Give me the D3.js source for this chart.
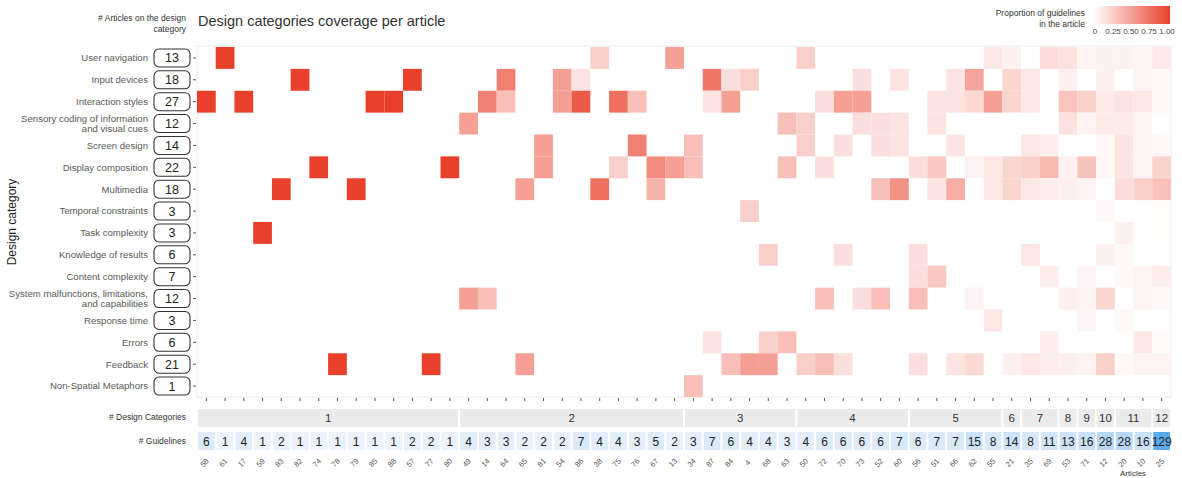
<!DOCTYPE html>
<html>
<head>
<meta charset="utf-8">
<script src="https://cdn.jsdelivr.net/npm/d3@7/dist/d3.min.js"></script>
<style>
  body { margin: 0; background: #fff; }
  svg { font-family: "Liberation Sans", Arial, Helvetica, sans-serif; display: block; }
</style>
</head>
<body>
<svg id="chart" width="1182" height="478"></svg>
<script>
// ---- data -------------------------------------------------------------
const categories = [
  "User navigation", "Input devices", "Interaction styles",
  "Sensory coding of information\nand visual cues", "Screen design",
  "Display composition", "Multimedia", "Temporal constraints",
  "Task complexity", "Knowledge of results", "Content complexity",
  "System malfunctions, limitations,\nand capabilities", "Response time",
  "Errors", "Feedback", "Non-Spatial Metaphors"
];
const articlesPerCategory = [13, 18, 27, 12, 14, 22, 18, 3, 3, 6, 7, 12, 3, 6, 21, 1];

const articles = [
  "58","61","17","59","83","82","74","78","79","85","88","57","77","80",
  "49","14","64","65","81","54","86","38","75","76","67","13",
  "34","87","84","4","68","63",
  "50","72","70","73","52","60",
  "56","51","66","62","55",
  "21", "35","69", "53", "71", "12", "20","10", "25"
];
const guidelines = [
  6,1,4,1,2,1,1,1,1,1,1,2,2,1,
  4,3,3,2,2,2,7,4,4,3,5,2,
  3,7,6,4,4,3,
  4,6,6,6,6,7,
  6,7,7,15,8,
  14, 8,11, 13, 16, 28, 28,16, 129
];

// guidelines of each article falling in each design category (one array per category)
const userNavigation = [0,1,0,0,0,0,0,0,0,0,0,0,0,0, 0,0,0,0,0,0,0,1,0,0,0,1, 0,0,0,0,0,0, 1,0,0,0,0,0, 0,0,0,0,1, 1, 0,2, 2, 1, 2, 2,1, 14];
const inputDevices   = [0,0,0,0,0,1,0,0,0,0,0,2,0,0, 0,0,2,0,0,1,1,0,0,0,0,0, 0,5,1,1,0,0, 0,0,0,1,0,1, 0,0,1,7,0, 3, 1,0, 1, 0, 2, 0,1, 5];
const interactionStyles = [6,0,4,0,0,0,0,0,0,1,1,0,0,0, 0,2,1,0,0,1,6,0,3,1,0,0, 0,1,3,0,0,0, 0,1,3,3,0,0, 0,1,1,3,4, 3, 1,0, 4, 4, 3, 4,2, 5];
const sensoryCoding  = [0,0,0,0,0,0,0,0,0,0,0,0,0,0, 2,0,0,0,0,0,0,0,0,0,0,0, 0,0,0,0,0,1, 1,0,0,1,1,1, 0,1,0,0,0, 0, 0,0, 2, 1, 3, 3,1, 0];
const screenDesign   = [0,0,0,0,0,0,0,0,0,0,0,0,0,0, 0,0,0,0,1,0,0,0,0,2,0,0, 1,0,0,0,0,0, 1,0,1,0,1,1, 0,0,1,0,0, 0, 1,1, 0, 0, 1, 4,1, 4];
const displayComposition = [0,0,0,0,0,0,1,0,0,0,0,0,0,1, 0,0,0,0,1,0,0,0,1,0,3,1, 1,0,0,0,0,1, 0,1,0,0,0,0, 1,2,0,1,1, 3, 2,4, 1, 5, 1, 4,1, 30];
const multimedia     = [0,0,0,0,2,0,0,0,1,0,0,0,0,0, 0,0,0,1,0,0,0,3,0,0,2,0, 0,0,0,0,0,0, 0,0,0,0,2,4, 0,1,3,0,1, 3, 1,1, 1, 1, 0, 5,4, 42];
const temporalConstraints = [0,0,0,0,0,0,0,0,0,0,0,0,0,0, 0,0,0,0,0,0,0,0,0,0,0,0, 0,0,0,1,0,0, 0,0,0,0,0,0, 0,0,0,0,0, 0, 0,0, 0, 0, 1, 0,0, 1];
const taskComplexity = [0,0,0,1,0,0,0,0,0,0,0,0,0,0, 0,0,0,0,0,0,0,0,0,0,0,0, 0,0,0,0,0,0, 0,0,0,0,0,0, 0,0,0,0,0, 0, 0,0, 0, 0, 0, 2,0, 1];
const knowledgeOfResults = [0,0,0,0,0,0,0,0,0,0,0,0,0,0, 0,0,0,0,0,0,0,0,0,0,0,0, 0,0,0,0,1,0, 0,0,1,0,0,0, 1,0,0,0,0, 0, 1,0, 0, 0, 2, 1,0, 0];
const contentComplexity  = [0,0,0,0,0,0,0,0,0,0,0,0,0,0, 0,0,0,0,0,0,0,0,0,0,0,0, 0,0,0,0,0,0, 0,0,0,0,0,0, 1,2,0,0,0, 0, 0,1, 0, 1, 0, 1,1, 12];
const systemMalfunctions = [0,0,0,0,0,0,0,0,0,0,0,0,0,0, 2,1,0,0,0,0,0,0,0,0,0,0, 0,0,0,0,0,0, 0,2,0,1,2,0, 2,0,0,1,0, 0, 0,0, 1, 1, 6, 0,1, 4];
const responseTime   = [0,0,0,0,0,0,0,0,0,0,0,0,0,0, 0,0,0,0,0,0,0,0,0,0,0,0, 0,0,0,0,0,0, 0,0,0,0,0,0, 0,0,0,0,1, 0, 0,0, 0, 1, 0, 1,0, 0];
const errors         = [0,0,0,0,0,0,0,0,0,0,0,0,0,0, 0,0,0,0,0,0,0,0,0,0,0,0, 0,1,0,0,1,1, 0,0,0,0,0,0, 0,0,0,0,0, 0, 0,1, 0, 0, 0, 0,2, 3];
const feedback       = [0,0,0,0,0,0,0,1,0,0,0,0,2,0, 0,0,0,1,0,0,0,0,0,0,0,0, 0,0,2,2,2,0, 1,2,1,0,0,0, 1,0,1,3,0, 1, 1,1, 1, 1, 7, 1,1, 8];
const nonSpatialMetaphors = [0,0,0,0,0,0,0,0,0,0,0,0,0,0, 0,0,0,0,0,0,0,0,0,0,0,0, 1,0,0,0,0,0, 0,0,0,0,0,0, 0,0,0,0,0, 0, 0,0, 0, 0, 0, 0,0, 0];

const categoryCounts = [
  userNavigation, inputDevices, interactionStyles, sensoryCoding, screenDesign,
  displayComposition, multimedia, temporalConstraints, taskComplexity,
  knowledgeOfResults, contentComplexity, systemMalfunctions, responseTime,
  errors, feedback, nonSpatialMetaphors
];
const legendTicks = [0, 0.25, 0.5, 0.75, 1];

// ---- derived tables ---------------------------------------------------
const cells = [];
categoryCounts.forEach((row, ci) => {
  row.forEach((n, ai) => {
    if (n > 0) cells.push({ category: categories[ci], article: articles[ai], value: n / guidelines[ai] });
  });
});
// number of design categories each article touches, grouped into strips
const nCats = articles.map((a, ai) => categoryCounts.filter(r => r[ai] > 0).length);
const strips = [];
nCats.forEach((n, ai) => {
  const last = strips[strips.length - 1];
  if (last && last.n === n) last.items.push(articles[ai]);
  else strips.push({ n, items: [articles[ai]] });
});

// ---- layout -----------------------------------------------------------
const svg = d3.select("#chart");
const plot = { left: 197, right: 1171, top: 47, bottom: 397 };

const x = d3.scaleBand().domain(articles).range([plot.left, plot.right]).padding(0);
const y = d3.scaleBand().domain(categories).range([plot.top, plot.bottom]).padding(0);
const heat = d3.scaleLinear().domain([0, 1]).range(["#ffffff", "#e8402a"]).interpolate(d3.interpolateRgb);
const blue = d3.scalePow().exponent(0.6).domain([1, 129]).range(["#edf3fc", "#5aa9ee"]);

// title and headers
svg.append("text").attr("x", 198).attr("y", 26)
  .attr("font-size", 14.5).attr("fill", "#333").text("Design categories coverage per article");
const hdr = svg.append("text").attr("text-anchor", "end").attr("font-size", 8.5).attr("fill", "#333");
hdr.append("tspan").attr("x", 186).attr("y", 21).text("# Articles on the design");
hdr.append("tspan").attr("x", 186).attr("y", 32).text("category");

// panel
svg.append("rect").attr("x", plot.left).attr("y", plot.top - 1)
  .attr("width", plot.right - plot.left).attr("height", plot.bottom - plot.top + 1)
  .attr("fill", "#fff").attr("stroke", "#ececec").attr("stroke-width", 1);

svg.append("g").selectAll("rect").data(cells).join("rect")
  .attr("x", d => x(d.article)).attr("y", d => y(d.category))
  .attr("width", x.bandwidth()).attr("height", y.bandwidth())
  .attr("fill", d => heat(d.value));

// y axis ticks
svg.append("g").attr("transform", `translate(${plot.left - 1},0)`)
  .call(d3.axisLeft(y).tickSize(3).tickFormat(""))
  .call(g => g.select(".domain").remove())
  .call(g => g.selectAll("line").attr("stroke", "#555"));
// x axis ticks
svg.append("g").attr("transform", `translate(0,${plot.bottom + 1})`)
  .call(d3.axisBottom(x).tickSize(3).tickFormat(""))
  .call(g => g.select(".domain").remove())
  .call(g => g.selectAll("line").attr("stroke", "#555"));

// category labels with count boxes
const rows = svg.append("g").selectAll("g").data(categories).join("g")
  .attr("transform", d => `translate(0,${y(d) + y.bandwidth() / 2})`);
rows.each(function(d) {
  const lines = d.split("\n");
  const t = d3.select(this).append("text").attr("text-anchor", "end")
    .attr("font-size", 9.6).attr("fill", "#595959");
  lines.forEach((l, i) => {
    t.append("tspan").attr("x", 148)
      .attr("y", (i - (lines.length - 1) / 2) * 10 + 3.4).text(l);
  });
});
rows.append("rect").attr("x", 154).attr("y", -9).attr("width", 36).attr("height", 18)
  .attr("rx", 5).attr("fill", "#fff").attr("stroke", "#333").attr("stroke-width", 1.1);
rows.append("text").attr("x", 172).attr("y", 4.5).attr("text-anchor", "middle")
  .attr("font-size", 12.5).attr("fill", "#222").text((d, i) => articlesPerCategory[i]);

svg.append("text").attr("transform", "translate(16,222) rotate(-90)")
  .attr("text-anchor", "middle").attr("font-size", 12).attr("fill", "#222").text("Design category");

// design-category strips
svg.append("text").attr("x", 186).attr("y", 420).attr("text-anchor", "end")
  .attr("font-size", 8.5).attr("fill", "#333").text("# Design Categories");
const sg = svg.append("g").selectAll("g").data(strips).join("g");
sg.append("rect")
  .attr("x", d => x(d.items[0]) + 1)
  .attr("width", d => x(d.items[d.items.length - 1]) + x.bandwidth() - x(d.items[0]) - 2)
  .attr("y", 409).attr("height", 18).attr("fill", "#ebebeb");
sg.append("text")
  .attr("x", d => (x(d.items[0]) + x(d.items[d.items.length - 1]) + x.bandwidth()) / 2)
  .attr("y", 422).attr("text-anchor", "middle").attr("font-size", 11.5).attr("fill", "#333")
  .text(d => d.n);

// guidelines row
svg.append("text").attr("x", 186).attr("y", 444).attr("text-anchor", "end")
  .attr("font-size", 8.5).attr("fill", "#333").text("# Guidelines");
const gg = svg.append("g").selectAll("g").data(articles).join("g")
  .attr("transform", d => `translate(${x(d)},0)`);
gg.append("rect").attr("x", 1).attr("y", 432).attr("width", x.bandwidth() - 2).attr("height", 18)
  .attr("fill", (d, i) => blue(guidelines[i]));
gg.append("text").attr("x", x.bandwidth() / 2).attr("y", 445.5).attr("text-anchor", "middle")
  .attr("font-size", 12).attr("fill", "#222").text((d, i) => guidelines[i]);

// article ids
svg.append("g").selectAll("text").data(articles).join("text")
  .attr("transform", d => `translate(${x(d) + x.bandwidth() / 2},464.5) rotate(-45)`)
  .attr("text-anchor", "middle").attr("font-size", 7.5).attr("fill", "#555").text(d => d);
svg.append("text").attr("x", 1133).attr("y", 476).attr("text-anchor", "middle")
  .attr("font-size", 8).attr("fill", "#333").text("Articles");

// legend
const defs = svg.append("defs");
const grad = defs.append("linearGradient").attr("id", "heatGrad");
d3.range(0, 1.01, 0.1).forEach(t => grad.append("stop")
  .attr("offset", `${t * 100}%`).attr("stop-color", heat(t)));
svg.append("rect").attr("x", 1093).attr("y", 6).attr("width", 77).attr("height", 18)
  .attr("fill", "url(#heatGrad)");
const lt = svg.append("text").attr("text-anchor", "end").attr("font-size", 8.5).attr("fill", "#333");
lt.append("tspan").attr("x", 1085).attr("y", 16).text("Proportion of guidelines");
lt.append("tspan").attr("x", 1085).attr("y", 27).text("in the article");
const lx = d3.scaleLinear().domain([0, 1]).range([1095, 1167]);
svg.append("g").selectAll("text").data(legendTicks).join("text")
  .attr("x", d => lx(d)).attr("y", 34).attr("text-anchor", "middle")
  .attr("font-size", 8).attr("fill", "#444")
  .text(d => d === 0 ? "0" : d.toFixed(2));
</script>
</body>
</html>
